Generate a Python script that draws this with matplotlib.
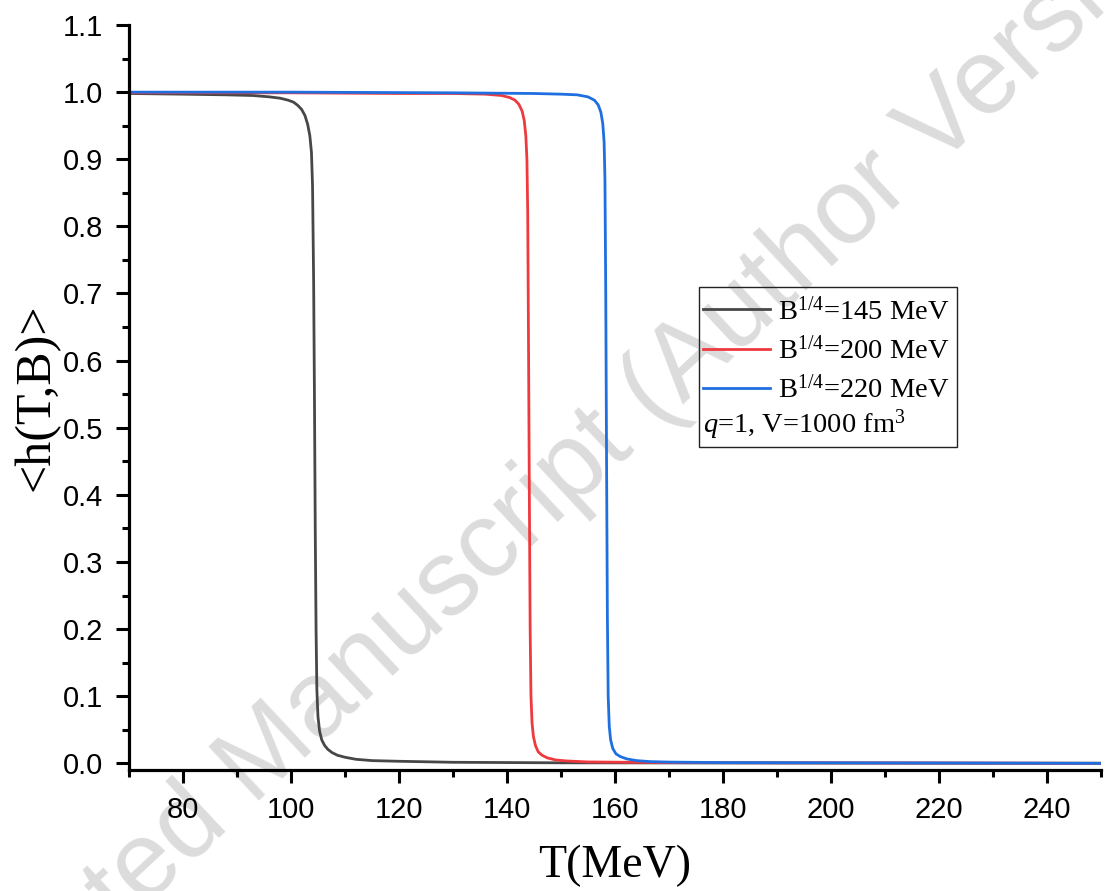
import matplotlib
matplotlib.use("Agg")
import matplotlib.pyplot as plt
from matplotlib.patches import Rectangle
from matplotlib.ticker import MultipleLocator, FormatStrFormatter

# ---- data ----
T_145 = [70, 80, 88, 93, 96, 98, 99.5, 100.5, 101.3, 102, 102.6, 103.1, 103.5, 103.8,
         104.0, 104.2, 104.35, 104.5, 104.65, 104.8, 105.0, 105.3, 105.7, 106.2, 106.8,
         107.6, 108.6, 110, 112, 115, 120, 130, 150, 250]
h_145 = [0.998, 0.997, 0.996, 0.995, 0.993, 0.991, 0.988, 0.985, 0.980, 0.974, 0.965,
         0.952, 0.935, 0.910, 0.86, 0.72, 0.55, 0.35, 0.20, 0.11, 0.07, 0.048, 0.035,
         0.027, 0.021, 0.016, 0.012, 0.009, 0.006, 0.004, 0.003, 0.0015, 0.0007, 0.0]

T_200 = [70, 100, 120, 130, 136, 139, 140.5, 141.5, 142.2, 142.8, 143.2, 143.5, 143.7,
         143.85, 144.0, 144.15, 144.3, 144.45, 144.65, 144.9, 145.3, 145.8, 146.5,
         147.5, 149, 151, 155, 170, 250]
h_200 = [0.999, 0.999, 0.998, 0.998, 0.997, 0.995, 0.992, 0.988, 0.982, 0.972, 0.958,
         0.935, 0.90, 0.82, 0.62, 0.40, 0.20, 0.10, 0.06, 0.040, 0.026, 0.017, 0.012,
         0.008, 0.005, 0.0035, 0.002, 0.001, 0.0]

T_220 = [70, 100, 130, 145, 150, 153, 155, 156.2, 156.9, 157.4, 157.75, 158.0, 158.15,
         158.3, 158.45, 158.6, 158.75, 158.95, 159.2, 159.6, 160.2, 161, 162.2, 164,
         166.5, 170, 180, 250]
h_220 = [1.0, 1.0, 0.999, 0.998, 0.997, 0.996, 0.993, 0.988, 0.981, 0.970, 0.953,
         0.925, 0.87, 0.70, 0.45, 0.22, 0.10, 0.055, 0.035, 0.022, 0.014, 0.010,
         0.0065, 0.004, 0.0025, 0.0018, 0.001, 0.0]

labels = [r"B$^{1/4}$=145 MeV", r"B$^{1/4}$=200 MeV", r"B$^{1/4}$=220 MeV"]
note = r"$q$=1, V=1000 fm$^3$"
colors = ["#474747", "#EE3A3E", "#1F6FE0"]
x_label = "T(MeV)"
y_label = "<h(T,B)>"
watermark = "Accepted Manuscript (Author Version)"

plt.rcParams["mathtext.fontset"] = "custom"
plt.rcParams["mathtext.rm"] = "Liberation Serif"
plt.rcParams["mathtext.it"] = "Liberation Serif:italic"

fig = plt.figure(figsize=(11.05, 8.91), dpi=100)
ax = fig.add_axes([0.1167, 0.1358, 0.8796, 0.8361])
ax.patch.set_alpha(0)

fig.text(0.493, 0.443, watermark, rotation=43, ha="center", va="center",
         fontsize=77, color="#dcdcdc", family="Liberation Sans", zorder=-1)

lines = []
for T, h, c, lab in zip([T_145, T_200, T_220], [h_145, h_200, h_220], colors, labels):
    ln, = ax.plot(T, h, color=c, lw=2.0, label=lab, solid_joinstyle="round")
    lines.append(ln)

ax.set_xlim(70, 250)
ax.set_ylim(-0.01, 1.1)
ax.set_xticks(range(80, 241, 20))
ax.xaxis.set_minor_locator(MultipleLocator(10))
ax.yaxis.set_major_locator(MultipleLocator(0.1))
ax.yaxis.set_minor_locator(MultipleLocator(0.05))
ax.yaxis.set_major_formatter(FormatStrFormatter("%.1f"))
ax.spines["top"].set_visible(False)
ax.spines["right"].set_visible(False)
for s in ["left", "bottom"]:
    ax.spines[s].set_linewidth(2.3)
ax.tick_params(which="major", direction="out", length=9.5, width=2.2,
               labelsize=21, pad=9)
ax.tick_params(which="minor", direction="out", length=4.8, width=2.2)
for t in ax.get_xticklabels() + ax.get_yticklabels():
    t.set_family("Liberation Sans")

ax.set_xlabel(x_label, family="Liberation Serif", fontsize=33, labelpad=15)
ax.set_ylabel(y_label, family="Liberation Serif", fontsize=36, labelpad=2)

# legend box
ax.add_patch(Rectangle((0.587, 0.434), 0.265, 0.214, transform=ax.transAxes,
                       fill=False, edgecolor="#222222", lw=1.0, zorder=5))
leg = ax.legend(handles=lines, loc="upper left", bbox_to_anchor=(0.5905, 0.635),
                frameon=False, prop={"family": "Liberation Serif", "size": 20.5},
                handlelength=2.35, handletextpad=0.3, labelspacing=0.38,
                borderpad=0, borderaxespad=0)
ax.text(0.5905, 0.463, note, transform=ax.transAxes, family="Liberation Serif",
        fontsize=20.5, ha="left", va="center")

fig.savefig("out.png", dpi=100)
